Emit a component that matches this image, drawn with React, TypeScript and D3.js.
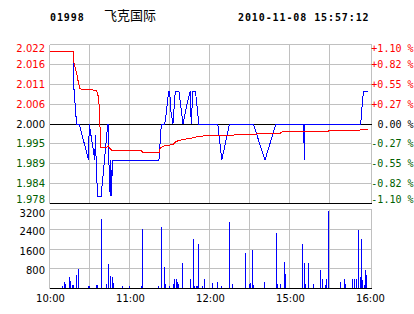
import React from 'react';
import * as d3 from 'd3';

const W = 414;
const H = 314;

const stockCode = '01998';
const stockName = '飞克国际';
const timestamp = '2010-11-08 15:57:12';
const prevClose = 2.0;

// percent grid levels (8 equal steps of 0.275 %)
const pctGrid = [1.1, 0.825, 0.55, 0.275, 0, -0.275, -0.55, -0.825, -1.1];
const priceLabels = ['2.022', '2.016', '2.011', '2.006', '2.000', '1.995', '1.989', '1.984', '1.978'];
const pctLabels = ['+1.10 %', '+0.82 %', '+0.55 %', '+0.27 %', '0.00 %', '-0.27 %', '-0.55 %', '-0.82 %', '-1.10 %'];

const volTicks = [3200, 2400, 1600, 800];
const volLabels = ['3200', '2400', '1600', '800'];

const timeTicks = [0, 60, 120, 180, 240];
const timeLabels = ['10:00', '11:00', '12:00', '15:00', '16:00'];
const gridMinutes = [30, 60, 90, 120, 150, 180, 210];

// price line (minutes since 10:00, trading time)
const priceTimes = [0, 17.8, 18.0, 18.3, 20.3, 22.3, 29.3, 29.8, 34.0, 34.3, 36.0, 38.7, 43.7, 44.0, 44.5, 45.5, 46.0, 46.5, 47.2, 82.1, 83.9, 86.4, 87.6, 89.3, 90.1, 91.2, 92.6, 94.3, 97.1, 100.1, 103.8, 105.5, 106.3, 107.5, 109.5, 112.0, 126.2, 129.2, 135.0, 152.9, 161.6, 169.8, 190.4, 190.5, 191.2, 191.3, 191.5, 233.4, 234.0, 235.4, 238.9];
const priceValues = [2.020, 2.020, 2.019, 2.010, 2.000, 2.000, 1.990, 2.000, 1.990, 1.997, 1.980, 1.980, 2.000, 2.000, 1.990, 1.980, 1.990, 1.980, 1.990, 1.990, 2.000, 2.000, 2.003, 2.009, 2.009, 2.003, 2.000, 2.009, 2.009, 2.000, 2.0066, 2.009, 2.000, 2.009, 2.009, 2.000, 2.000, 1.990, 2.000, 2.000, 1.990, 2.000, 2.000, 1.995, 1.995, 1.990, 2.000, 2.000, 2.003, 2.009, 2.009];

// average price line
const avgTimes = [0, 17.8, 18.3, 20.3, 21.5, 22.8, 30.3, 35.3, 36.0, 37.0, 37.8, 38.5, 42.8, 44.0, 46.0, 47.7, 68.9, 70.1, 82.1, 83.1, 86.4, 92.6, 95.1, 100.1, 106.3, 112.5, 120, 132.5, 147.4, 172.3, 174.8, 207.3, 209.7, 229.7, 233.4, 237.2, 238.9];
const avgValues = [2.020, 2.020, 2.0169, 2.0141, 2.0118, 2.0097, 2.0095, 2.0093, 2.0086, 2.0067, 2.000, 1.9934, 1.9934, 1.994, 1.9929, 1.9926, 1.9926, 1.992, 1.992, 1.9934, 1.994, 1.9943, 1.9952, 1.9957, 1.9961, 1.9966, 1.9968, 1.9968, 1.9972, 1.9973, 1.9979, 1.9979, 1.9981, 1.9981, 1.9984, 1.9986, 1.9986];

// volume per minute
const volTimes = [10, 11, 12, 15, 16, 17, 18, 20, 22, 29, 30, 35, 36, 39, 43, 44, 46, 47, 48, 55, 60, 69, 70, 82, 84, 86, 87, 90, 93, 94, 95, 96, 97, 100, 106, 108, 109, 110, 111, 112, 115, 116, 122, 126, 129, 135, 137, 147, 150, 151, 152, 153, 161, 170, 171, 173, 176, 177, 190, 191, 192, 194, 198, 203, 205, 207, 208, 209, 218, 221, 222, 227, 229, 230, 232, 233, 234, 235, 236, 237, 238];
const volValues = [100, 245, 175, 460, 295, 135, 135, 540, 780, 95, 95, 135, 135, 2800, 175, 1010, 510, 460, 215, 95, 95, 95, 2400, 95, 2480, 860, 175, 95, 175, 375, 375, 255, 175, 1025, 375, 2000, 95, 95, 95, 1800, 95, 375, 215, 255, 95, 2690, 175, 1430, 175, 215, 1550, 135, 255, 2240, 175, 175, 1065, 580, 1795, 1025, 175, 1025, 175, 740, 375, 135, 375, 3130, 255, 375, 175, 375, 375, 375, 2360, 460, 2000, 335, 135, 740, 530];

const LEFT = 49.5;
const RIGHT = 371.5;
const X_END = 369.5;
const M_TOP = 44.5;
const M_BOT = 203.5;
const V_TOP = 209.5;
const V_BOT = 288.5;

const GRID = '#c0c0c0';
const RED = '#ff0000';
const GREEN = '#006000';
const BLUE = '#0000ff';

export default function App() {
  const x = d3.scaleLinear().domain([0, 240]).range([LEFT, X_END]);
  const y = d3
    .scaleLinear()
    .domain([prevClose * (1 - 0.011), prevClose * (1 + 0.011)])
    .range([M_BOT, M_TOP]);
  const yv = d3.scaleLinear().domain([0, 3200]).range([V_BOT, V_TOP]);

  const line = d3
    .line<[number, number]>()
    .x((d) => x(d[0]))
    .y((d) => y(d[1]));

  const pricePts = priceTimes.map((t, i) => [t, priceValues[i]] as [number, number]);
  const avgPts = avgTimes.map((t, i) => [t, avgValues[i]] as [number, number]);

  const gridPrice = (p: number) => prevClose * (1 + p / 100);
  const labelColor = (p: number) => (p > 0 ? RED : p < 0 ? GREEN : '#000');
  const clampC = (v: number) => Math.max(M_TOP + 3.5, Math.min(M_BOT - 3.8, v));

  const sans = 'DejaVu Sans, sans-serif';
  const mono = 'DejaVu Sans Mono, monospace';

  return (
    <svg
      width={W}
      height={H}
      style={{ position: 'absolute', left: 0, top: 0, background: '#fff' }}
    >
      <rect x={0} y={0} width={W} height={H} fill="#fff" />
      {/* header */}
      <text x={50} y={20.5} fontFamily={mono} fontWeight="bold" fontSize={10} letterSpacing={0.9} fill="#000">
        {stockCode}
      </text>
      <text x={104} y={20} fontFamily="Noto Sans CJK SC, sans-serif" fontSize={13} fill="#000">
        {stockName}
      </text>
      <text x={238} y={20.5} fontFamily={mono} fontWeight="bold" fontSize={10} letterSpacing={0.9} fill="#000">
        {timestamp}
      </text>

      {/* main panel grid */}
      <g shapeRendering="crispEdges">
        {pctGrid.map((p, i) => (
          <line key={'h' + i} x1={LEFT} x2={RIGHT} y1={y(gridPrice(p))} y2={y(gridPrice(p))} stroke={GRID} />
        ))}
        {gridMinutes.map((m) => (
          <line key={'v' + m} x1={x(m)} x2={x(m)} y1={M_TOP} y2={M_BOT} stroke={GRID} />
        ))}
        <line x1={LEFT} x2={LEFT} y1={M_TOP} y2={M_BOT} stroke={GRID} />
        <line x1={RIGHT} x2={RIGHT} y1={M_TOP} y2={M_BOT} stroke={GRID} />
        <line x1={LEFT} x2={RIGHT} y1={y(prevClose)} y2={y(prevClose)} stroke="#000" />
        <line x1={LEFT} x2={RIGHT} y1={M_BOT} y2={M_BOT} stroke="#000" />
      </g>

      {/* price & average lines */}
      <path d={line(pricePts) || ''} fill="none" stroke={BLUE} strokeWidth={1} shapeRendering="crispEdges" />
      <path d={line(avgPts) || ''} fill="none" stroke={RED} strokeWidth={1} shapeRendering="crispEdges" />

      {/* left price labels */}
      {pctGrid.map((p, i) => (
        <text
          key={'pl' + i}
          x={45}
          y={clampC(y(gridPrice(p))) + 3.6}
          textAnchor="end"
          fontFamily={sans}
          fontSize={10}
          fill={labelColor(p)}
        >
          {priceLabels[i]}
        </text>
      ))}
      {/* right percent labels */}
      {pctGrid.map((p, i) => (
        <text
          key={'pr' + i}
          x={413.5}
          y={clampC(y(gridPrice(p))) + 3.6}
          textAnchor="end"
          fontFamily={mono}
          fontSize={10}
          fill={labelColor(p)}
        >
          {pctLabels[i]}
        </text>
      ))}

      {/* volume panel grid */}
      <g shapeRendering="crispEdges">
        {volTicks.map((v) => (
          <line key={'vh' + v} x1={LEFT} x2={RIGHT} y1={yv(v)} y2={yv(v)} stroke={GRID} />
        ))}
        {gridMinutes.map((m) => (
          <line key={'vv' + m} x1={x(m)} x2={x(m)} y1={V_TOP} y2={V_BOT} stroke={GRID} />
        ))}
        <line x1={LEFT} x2={LEFT} y1={V_TOP} y2={V_BOT} stroke={GRID} />
        <line x1={RIGHT} x2={RIGHT} y1={V_TOP} y2={V_BOT} stroke={GRID} />
        {volTimes.map((t, i) => (
          <rect
            key={'b' + i}
            x={Math.floor(x(t))}
            y={yv(volValues[i])}
            width={1}
            height={V_BOT - 0.5 - yv(volValues[i])}
            fill={BLUE}
          />
        ))}
        <line x1={LEFT} x2={RIGHT} y1={V_BOT} y2={V_BOT} stroke="#000" />
      </g>

      {/* volume labels */}
      {volTicks.map((v, i) => (
        <text
          key={'vl' + v}
          x={45}
          y={Math.max(V_TOP + 3.8, yv(v) + 2) + 3.6}
          textAnchor="end"
          fontFamily={sans}
          fontSize={10}
          fill="#000"
        >
          {volLabels[i]}
        </text>
      ))}

      {/* time labels */}
      {timeTicks.map((t, i) => (
        <text
          key={'tl' + t}
          x={x(t) + 1}
          y={301.5}
          textAnchor="middle"
          fontFamily={sans}
          fontSize={10}
          fill="#000"
        >
          {timeLabels[i]}
        </text>
      ))}
    </svg>
  );
}
